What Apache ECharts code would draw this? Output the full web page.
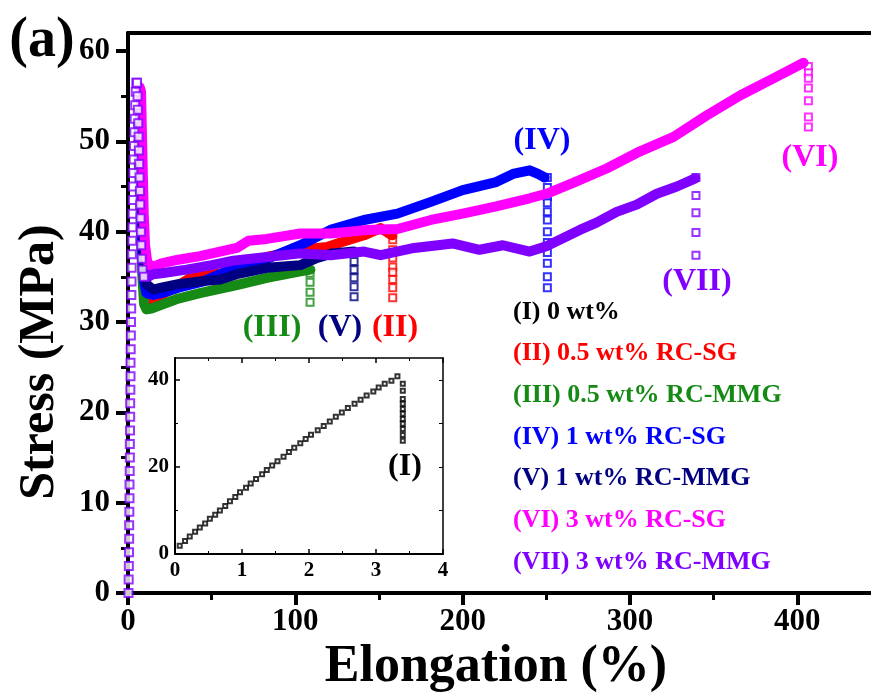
<!DOCTYPE html>
<html>
<head>
<meta charset="utf-8">
<script src="https://cdn.jsdelivr.net/npm/echarts@6/dist/echarts.min.js"></script>
<style>
html, body { margin: 0; padding: 0; background: #fff; }
#chart { width: 871px; height: 700px; }
</style>
</head>
<body>
<div id="chart"></div>
<script>
// ticks
const xTicks = [0, 100, 200, 300, 400];
const xMinor = [50, 150, 250, 350];
const yTicks = [0, 10, 20, 30, 40, 50, 60];
const yMinor = [5, 15, 25, 35, 45, 55];
const insetYTicks = [0, 20, 40];
const insetYMinor = [10, 30];

const labels = ['(I) 0 wt%', '(II) 0.5 wt% RC-SG', '(III) 0.5 wt% RC-MMG', '(IV) 1 wt% RC-SG',
  '(V) 1 wt% RC-MMG', '(VI) 3 wt% RC-SG', '(VII) 3 wt% RC-MMG'];
const colors = ['#000000', '#ff0000', '#158a15', '#0000ff', '#000080', '#ff00ff', '#8000ff'];

// (II) 0.5 wt% RC-SG  (from the yield peak on; the rise is hidden under (VII))
const curveII = [[6.2,50],[7,48],[7.8,42],[8.6,37],[9.6,34],[11,32.6],[13,32.4],
  [16,32.6],[25,33.5],[40,35.2],[49,35.2],[60,35.5],[70,36.2],[83,37.2],[103,38],[119,38.3],[127,38.8],[141,39.6],
  [151,40.4],[156,39.8],[158,39.6]];
const dropII = [[158.2,39.1],[158.2,38],[158.2,37.1],[158.2,36.1],[158.2,35.5],[158.2,34.7],[158.2,33.8],[158.2,32.7]];

// (III) 0.5 wt% RC-MMG
const curveIII = [[6.2,48],[7,46],[7.8,40],[8.6,35],[9.6,32],[11,31.4],[14,31.5],
  [20,31.9],[30,32.6],[43,33.2],[65,34.1],[83,34.9],[103,35.6],[109,35.8]];
const dropIII = [[108.8,35.4],[108.8,34.4],[108.8,33.3],[108.8,32.2]];

// (IV) 1 wt% RC-SG
const curveIV = [[6.2,52],[7,50],[7.8,44],[8.6,38],[9.6,34.5],[11,33.2],[15,33],
  [20,33.2],[30,33.8],[45,34.5],[55,35.3],[65,36.1],[83,37],[103,38.5],[121,40.2],[141,41.3],[161,42],[181,43.3],
  [200,44.6],[220,45.5],[230,46.4],[240,46.8],[245,46.4],[249,46]];
const dropIV = [[250.6,46],[250.6,44.9],[250.6,43.9],[250.6,43.2],[250.6,42.2],[250.6,41.3],[250.6,40],[250.6,38.8],
  [250.6,37.7],[250.6,36.5],[250.6,35],[250.6,33.8]];

// (V) 1 wt% RC-MMG
const curveV = [[7,53.5],[7.6,52],[8.2,47],[8.8,42],[9.6,37],[11,34.2],[15,33.6],
  [20,33.8],[30,34.2],[43,34.5],[55,34.7],[65,35.3],[83,36],[103,36.3],[113,37.1],[122,37.6],[135,37.8]];
const dropV = [[135.1,36.7],[135.1,35.8],[135.1,34.9],[135.1,33.9],[135.1,32.8]];

// (VI) 3 wt% RC-SG
const curveVI = [[7,56],[7.8,55.5],[8.2,52],[8.8,47],[9.4,42],[10.2,38.5],[11.4,36.8],
  [13,36.2],[16,36.2],[20,36.5],[30,36.9],[43,37.3],[55,37.8],[65,38.2],[72,39],[83,39.2],[103,39.8],[121,39.8],[143,40.2],
  [161,40.3],[181,41.3],[200,42],[220,42.8],[240,43.7],[250,44.2],[266,45.4],[286,47],[306,48.9],[326,50.5],[346,52.9],
  [366,55.1],[386,57],[403.7,58.7]];
const dropVI = [[406.6,58.3],[406.6,57.6],[406.6,57.0],[406.6,55.9],[406.6,54.5],[406.6,52.7],[406.6,51.6]];

// (VII) 3 wt% RC-MMG
const riseVII = [[0.3,0],[0.4,1.5],[0.5,3],[0.6,4.5],[0.7,6],[0.7,7.5],[0.8,9],[0.9,10.5],[0.9,12],[1.0,13.5],[1.1,15],
  [1.1,16.5],[1.2,18],[1.3,19.5],[1.3,21],[1.4,22.5],[1.5,24],[1.5,25.5],[1.6,27],[1.7,28.5],[1.8,30],[1.9,31.5],[2.0,33],
  [2.1,34.5],[2.2,36],[2.3,37.5],[2.5,39],[2.6,40.5],[2.7,42],[2.9,43.5],[3.0,45],[3.2,46.5],[3.4,48],[3.6,49.5],[3.8,51],
  [4.0,52.5],[4.3,54],[4.6,55.5],[5.0,56.5],[5.4,56.5],[5.7,55],[5.9,53.5],[6.1,52],[6.3,50.5],[6.5,49],[6.7,47.5],
  [6.9,46],[7.1,44.5],[7.3,43],[7.5,41.5],[7.7,40],[7.9,38.5],[8.2,37],[8.7,35.8],[9.5,35]];
const curveVII = [[9.5,35],[12,35],[15,35.3],[20,35.4],[35,35.8],[50,36.3],[63,36.8],[83,37.2],[103,37.6],[121,37.4],
  [141,37.8],[151,37.4],[171,38.2],[194,38.7],[210,38],[224,38.5],[240,37.8],[250,38.4],[258,39.1],[270,40.2],[280,41],
  [292,42.2],[304,43],[316,44.2],[328,45],[339,45.9]];
const dropVII = [[339.4,46],[339.4,44],[339.4,42.1],[339.4,39.9],[339.4,37.4]];

// inset: (I) 0 wt%
const insetI = [[0.07,1.9],[0.15,3.0],[0.22,4.0],[0.30,5.1],[0.37,6.1],[0.45,7.0],[0.52,8.1],[0.60,9.0],[0.67,10.0],
  [0.75,11.0],[0.82,12.1],[0.90,13.1],[0.97,14.2],[1.06,15.2],[1.13,16.2],[1.21,17.2],[1.30,18.3],[1.37,19.3],[1.45,20.3],
  [1.53,21.3],[1.62,22.3],[1.70,23.4],[1.78,24.4],[1.87,25.4],[1.95,26.4],[2.03,27.4],[2.13,28.4],[2.22,29.4],[2.31,30.4],
  [2.40,31.5],[2.49,32.5],[2.58,33.5],[2.68,34.5],[2.77,35.4],[2.86,36.4],[2.96,37.3],[3.04,38.2],[3.13,39.1],[3.23,39.8],
  [3.32,40.8]];
const dropI = [[3.40,39.1],[3.40,37.5],[3.40,35.6],[3.40,34.5],[3.40,33.3],[3.40,32.2],[3.40,31.0],[3.40,29.9],[3.40,28.7],
  [3.40,27.3],[3.40,26.0]];

const FONT = "'Liberation Serif', 'Times New Roman', serif";

const chart = echarts.init(document.getElementById('chart'), null, { renderer: 'canvas' });

function curve(data, color) {
  return {
    type: 'line', data: data, xAxisIndex: 0, yAxisIndex: 0,
    showSymbol: false, symbol: 'none', smooth: false,
    lineStyle: { color: color, width: 10, cap: 'round', join: 'round' },
    animation: false
  };
}
function squares(data, color, size, xi, yi, bw, z) {
  return {
    type: 'scatter', data: data, xAxisIndex: xi, yAxisIndex: yi, z: z || 2,
    symbol: 'emptyRect', symbolSize: size, clip: false,
    itemStyle: { color: color, borderColor: color, borderWidth: bw || 1.5 },
    animation: false
  };
}

const tickLab = { fontFamily: FONT, fontWeight: 'bold', color: '#000' };
const black = '#000';

var option = {
  backgroundColor: '#fff',
  grid: [
    { left: 128, top: 33, right: 0, height: 560 },
    { left: 175, top: 358, width: 268, height: 196 }
  ],
  xAxis: [
    {
      gridIndex: 0, type: 'value', position: 'bottom', min: 0, max: 444, interval: 100,
      axisLine: { show: true, onZero: false, lineStyle: { color: black, width: 4 } },
      axisTick: { show: true, inside: false, length: 12, customValues: xTicks, lineStyle: { color: black, width: 4 } },
      axisLabel: Object.assign({ fontSize: 31, margin: 13, customValues: xTicks }, tickLab),
      splitLine: { show: false }
    },
    {
      gridIndex: 0, type: 'value', position: 'bottom', min: 0, max: 444,
      axisLine: { show: false },
      axisTick: { show: true, inside: false, length: 7, customValues: xMinor, lineStyle: { color: black, width: 3 } },
      axisLabel: { show: false }, splitLine: { show: false }
    },
    {
      gridIndex: 0, type: 'value', position: 'top', min: 0, max: 444,
      axisLine: { show: true, onZero: false, lineStyle: { color: black, width: 4 } },
      axisTick: { show: false }, axisLabel: { show: false }, splitLine: { show: false }
    },
    {
      gridIndex: 1, type: 'value', position: 'bottom', min: 0, max: 4, interval: 1,
      axisLine: { show: true, onZero: false, lineStyle: { color: black, width: 2 } },
      axisTick: { show: true, inside: true, length: 5, lineStyle: { color: black, width: 1.5 } },
      minorTick: { show: true, splitNumber: 2, length: 3, lineStyle: { color: black, width: 1 } },
      axisLabel: Object.assign({ fontSize: 21, margin: 6 }, tickLab),
      splitLine: { show: false }
    },
    {
      gridIndex: 1, type: 'value', position: 'top', min: 0, max: 4, interval: 1,
      axisLine: { show: true, onZero: false, lineStyle: { color: black, width: 1.5 } },
      axisTick: { show: true, inside: true, length: 5, lineStyle: { color: black, width: 1.5 } },
      minorTick: { show: true, splitNumber: 2, length: 3, lineStyle: { color: black, width: 1 } },
      axisLabel: { show: false }, splitLine: { show: false }
    }
  ],
  yAxis: [
    {
      gridIndex: 0, type: 'value', position: 'left', min: 0, max: 62,
      axisLine: { show: true, onZero: false, lineStyle: { color: black, width: 4 } },
      axisTick: { show: true, inside: false, length: 12, customValues: yTicks, lineStyle: { color: black, width: 4 } },
      axisLabel: Object.assign({ fontSize: 31, margin: 18, customValues: yTicks }, tickLab),
      splitLine: { show: false }
    },
    {
      gridIndex: 0, type: 'value', position: 'left', min: 0, max: 62,
      axisLine: { show: false },
      axisTick: { show: true, inside: false, length: 7, customValues: yMinor, lineStyle: { color: black, width: 3 } },
      axisLabel: { show: false }, splitLine: { show: false }
    },
    {
      gridIndex: 1, type: 'value', position: 'left', min: 0, max: 45,
      axisLine: { show: true, onZero: false, lineStyle: { color: black, width: 2 } },
      axisTick: { show: true, inside: true, length: 5, customValues: insetYTicks, lineStyle: { color: black, width: 1.5 } },
      axisLabel: Object.assign({ fontSize: 21, margin: 6, customValues: insetYTicks }, tickLab),
      splitLine: { show: false }
    },
    {
      gridIndex: 1, type: 'value', position: 'left', min: 0, max: 45,
      axisLine: { show: false },
      axisTick: { show: true, inside: true, length: 3, customValues: insetYMinor, lineStyle: { color: black, width: 1 } },
      axisLabel: { show: false }, splitLine: { show: false }
    },
    {
      gridIndex: 1, type: 'value', position: 'right', min: 0, max: 45,
      axisLine: { show: true, onZero: false, lineStyle: { color: black, width: 1.5 } },
      axisTick: { show: true, inside: true, length: 4, customValues: insetYTicks.concat(insetYMinor), lineStyle: { color: black, width: 1 } },
      axisLabel: { show: false }, splitLine: { show: false }
    }
  ],
  series: [
    curve(curveII, colors[1]), squares(dropII, colors[1], 7, 0, 0),
    curve(curveIII, colors[2]), squares(dropIII, colors[2], 7, 0, 0),
    curve(curveIV, colors[3]), squares(dropIV, colors[3], 7, 0, 0),
    curve(curveV, colors[4]), squares(dropV, colors[4], 7, 0, 0),
    curve(curveVI, colors[5]), squares(dropVI, colors[5], 7, 0, 0),
    curve(curveVII, colors[6]), squares(dropVII, colors[6], 7, 0, 0),
    squares(riseVII, colors[6], 8, 0, 0, 2, 6),
    squares(insetI, black, 4, 3, 2, 1),
    squares(dropI, black, 4, 3, 2, 1)
  ],
  graphic: []
};

function txt(s, x, y, size, color, align, rot) {
  return {
    type: 'text', x: x, y: y, rotation: rot || 0, z: 100,
    style: { text: s, fill: color, font: 'bold ' + size + 'px ' + FONT,
      align: align || 'center', verticalAlign: 'middle' }
  };
}

const g = option.graphic;
g.push(txt('(a)', 42, 42, 56, black));
g.push(txt('Elongation (%)', 496, 668, 52, black));
g.push(txt('Stress (MPa)', 40, 362, 50, black, 'center', Math.PI / 2));
// curve markers
g.push(txt('(IV)', 542, 141, 32, colors[3]));
g.push(txt('(VI)', 810, 158, 32, colors[5]));
g.push(txt('(VII)', 697, 282, 32, colors[6]));
g.push(txt('(III)', 272, 328, 32, colors[2]));
g.push(txt('(V)', 340, 328, 32, colors[4]));
g.push(txt('(II)', 395, 328, 32, colors[1]));
g.push(txt('(I)', 405, 467, 32, black));
// sample list
labels.forEach(function (s, i) {
  g.push(txt(s, 513, 312 + i * 41.67, 26, colors[i], 'left'));
});

chart.setOption(option);
</script>
</body>
</html>
